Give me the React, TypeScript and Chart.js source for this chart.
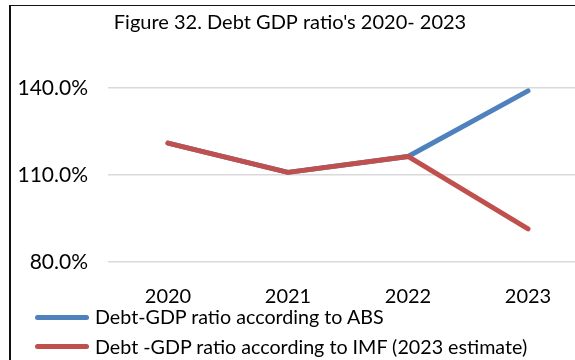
import React, { useEffect, useRef } from 'react';
import { Chart, registerables } from 'chart.js';

Chart.register(...registerables);

const TITLE = "Figure 32. Debt GDP ratio's 2020- 2023";
const CATEGORIES = ['2020', '2021', '2022', '2023'];
const ABS_LABEL = 'Debt-GDP ratio according to ABS';
const IMF_LABEL = 'Debt -GDP ratio according to IMF (2023 estimate)';
const ABS_VALUES = [121.0, 110.9, 116.4, 139.0];
const IMF_VALUES = [121.0, 110.9, 116.4, 91.4];
const Y_TICKS = [80, 110, 140];

const FONT = 'Lato, "Open Sans", sans-serif';
const BLUE = '#4F81BD';
const RED = '#C0504D';

const SERIES = [
  { label: ABS_LABEL, data: ABS_VALUES, color: BLUE, order: 2 },
  { label: IMF_LABEL, data: IMF_VALUES, color: RED, order: 1 },
];

export default function App() {
  const canvasRef = useRef<HTMLCanvasElement | null>(null);

  useEffect(() => {
    if (!canvasRef.current) return;
    const chart = new Chart(canvasRef.current, {
      type: 'line',
      data: {
        labels: CATEGORIES,
        datasets: SERIES.map((s) => ({
          label: s.label,
          data: s.data,
          borderColor: s.color,
          backgroundColor: s.color,
          borderWidth: 5,
          borderCapStyle: 'round',
          borderJoinStyle: 'round',
          pointRadius: 0,
          pointHoverRadius: 0,
          tension: 0,
          order: s.order,
        })),
      },
      options: {
        responsive: false,
        animation: false,
        devicePixelRatio: 1,
        layout: { padding: { left: 0, right: 24, top: 0, bottom: 18 } },
        plugins: {
          title: {
            display: true,
            text: TITLE,
            color: '#000',
            font: { family: FONT, size: 20, weight: 'normal' },
            padding: { top: 11, bottom: 53 },
          },
          legend: { display: false },
          tooltip: { enabled: false },
        },
        scales: {
          x: {
            type: 'category',
            offset: true,
            grid: { display: false },
            border: { display: false },
            ticks: {
              color: '#000',
              font: { family: FONT, size: 20 },
              padding: 14.5,
              maxRotation: 0,
              autoSkip: false,
            },
            afterFit: (s: any) => {
              s.height = 60;
            },
          },
          y: {
            min: Y_TICKS[0],
            max: Y_TICKS[Y_TICKS.length - 1],
            grid: { color: '#d9d9d9', lineWidth: 1.5, drawTicks: false },
            border: { display: false },
            ticks: {
              color: '#000',
              font: { family: FONT, size: 21 },
              padding: 20,
              callback: (v: any) => Number(v).toFixed(1) + '%',
            },
            afterBuildTicks: (s: any) => {
              s.ticks = Y_TICKS.map((v) => ({ value: v }));
            },
            afterFit: (s: any) => {
              s.width = 116;
            },
          },
        },
      } as any,
    });
    return () => chart.destroy();
  }, []);

  const legendTops = [305, 334.5];

  return (
    <div
      style={{
        position: 'fixed',
        left: 0,
        top: 0,
        width: 575,
        height: 360,
        overflow: 'hidden',
        background: '#fff',
      }}
    >
      <div
        style={{
          position: 'absolute',
          left: 9,
          top: 5,
          width: 700,
          height: 500,
          borderLeft: '2px solid #111',
          borderTop: '1px solid #111',
        }}
      />
      <canvas
        ref={canvasRef}
        width={620}
        height={340}
        style={{ position: 'absolute', left: -8, top: 0, width: 620, height: 340 }}
      />
      {SERIES.map((s, i) => (
        <div
          key={s.label}
          style={{
            position: 'absolute',
            left: 35,
            top: legendTops[i],
            height: 24,
            display: 'flex',
            alignItems: 'center',
            whiteSpace: 'nowrap',
            fontFamily: FONT,
            fontSize: 19.7,
            lineHeight: '24px',
            color: '#000',
          }}
        >
          <span
            style={{
              display: 'inline-block',
              width: 54,
              height: 5,
              borderRadius: 2.5,
              background: s.color,
              marginRight: 6,
            }}
          />
          <span>{s.label}</span>
        </div>
      ))}
    </div>
  );
}
